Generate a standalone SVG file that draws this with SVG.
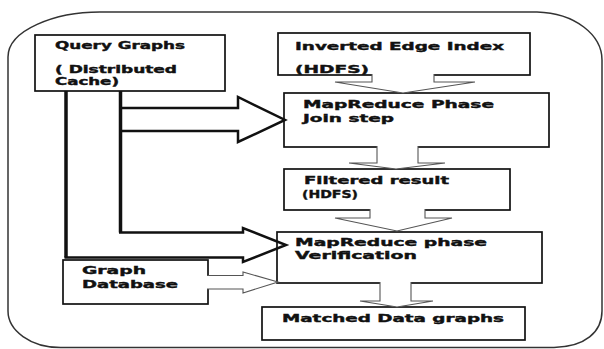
<svg xmlns="http://www.w3.org/2000/svg" width="604" height="349" viewBox="0 0 604 349">
<style>
.box{fill:#fff;stroke:#111;stroke-width:1.7}
.t{font-family:"DejaVu Sans",Verdana,sans-serif;font-weight:bold;font-size:11px;fill:#111;stroke:#111;stroke-width:0.4}
.s{font-size:10px}
.thin{fill:#fff;stroke:#555;stroke-width:1.1;stroke-linejoin:miter}
.thick{fill:none;stroke:#111;stroke-linejoin:miter}
</style>
<rect width="604" height="349" fill="#fff"/>
<path id="frame" d="M100,12 H537 C575,13 602,35 602,60 V311 C602,332 585,347 554,347.5 H62 C30,348 8,330 8,311 V57 C8,30 55,12 100,12 Z" fill="none" stroke="#333" stroke-width="1.5"/>
<g id="n-query"><rect class="box" x="35" y="35" width="190" height="56"/>
<text class="t" x="55" y="49" textLength="130" lengthAdjust="spacingAndGlyphs">Query Graphs</text>
<text class="t s" x="55" y="73" textLength="122" lengthAdjust="spacingAndGlyphs">( Distributed</text>
<text class="t s" x="55" y="85" textLength="64" lengthAdjust="spacingAndGlyphs">Cache)</text></g>
<g id="n-index"><rect class="box" x="278" y="33" width="252" height="42"/>
<text class="t" x="295" y="50" textLength="209" lengthAdjust="spacingAndGlyphs">Inverted Edge Index</text>
<text class="t" x="295" y="73" textLength="74" lengthAdjust="spacingAndGlyphs">(HDFS)</text></g>
<g id="n-join"><rect class="box" x="284" y="93" width="265" height="54"/>
<text class="t" x="303" y="108" textLength="191" lengthAdjust="spacingAndGlyphs">MapReduce Phase</text>
<text class="t" x="303" y="122" textLength="91" lengthAdjust="spacingAndGlyphs">Join step</text></g>
<g id="n-filtered"><rect class="box" x="284" y="169" width="226" height="41"/>
<text class="t" x="304" y="184" textLength="145" lengthAdjust="spacingAndGlyphs">Filtered result</text>
<text class="t" x="302" y="198" textLength="56" lengthAdjust="spacingAndGlyphs">(HDFS)</text></g>
<g id="n-verif"><rect class="box" x="277" y="232" width="265" height="51"/>
<text class="t" x="295" y="246" textLength="192" lengthAdjust="spacingAndGlyphs">MapReduce phase</text>
<text class="t" x="295" y="259" textLength="122" lengthAdjust="spacingAndGlyphs">Verification</text></g>
<g id="n-graphdb"><rect class="box" x="63" y="260" width="145" height="44"/>
<text class="t" x="82" y="274" textLength="64" lengthAdjust="spacingAndGlyphs">Graph</text>
<text class="t" x="82" y="288" textLength="96" lengthAdjust="spacingAndGlyphs">Database</text></g>
<g id="n-matched"><rect class="box" x="262" y="307" width="263" height="33"/>
<text class="t" x="282" y="322" textLength="222" lengthAdjust="spacingAndGlyphs">Matched Data graphs</text></g>
<g id="connectors">
<path class="thin" d="M372,74 V82 H335 L403,93 L475,82 H434 V74"/>
<path class="thin" d="M377,146 V163 H349 L396,169 L445,163 H418 V146"/>
<path class="thin" d="M370,209 V218 H335 L397,231 L452,218 H425 V209"/>
<path class="thin" d="M380,282 V301 H360 L397,307 L433,301 H411 V282"/>
<path class="thin" d="M207,275.5 H243 V272 L278,282 L243,293 V289 H207"/>
<path class="thick" stroke-width="2.5" d="M121,108 H238 V97 L285,120 L238,142 V131 H121"/>
<path class="thick" stroke-width="3.5" d="M66,91 V257.5 M120.5,91 V232.5"/>
<path class="thick" stroke-width="2.5" d="M119,232.5 H243 V228 L286,245 L243,262 V257.5 H64.5"/>
</g>
</svg>
